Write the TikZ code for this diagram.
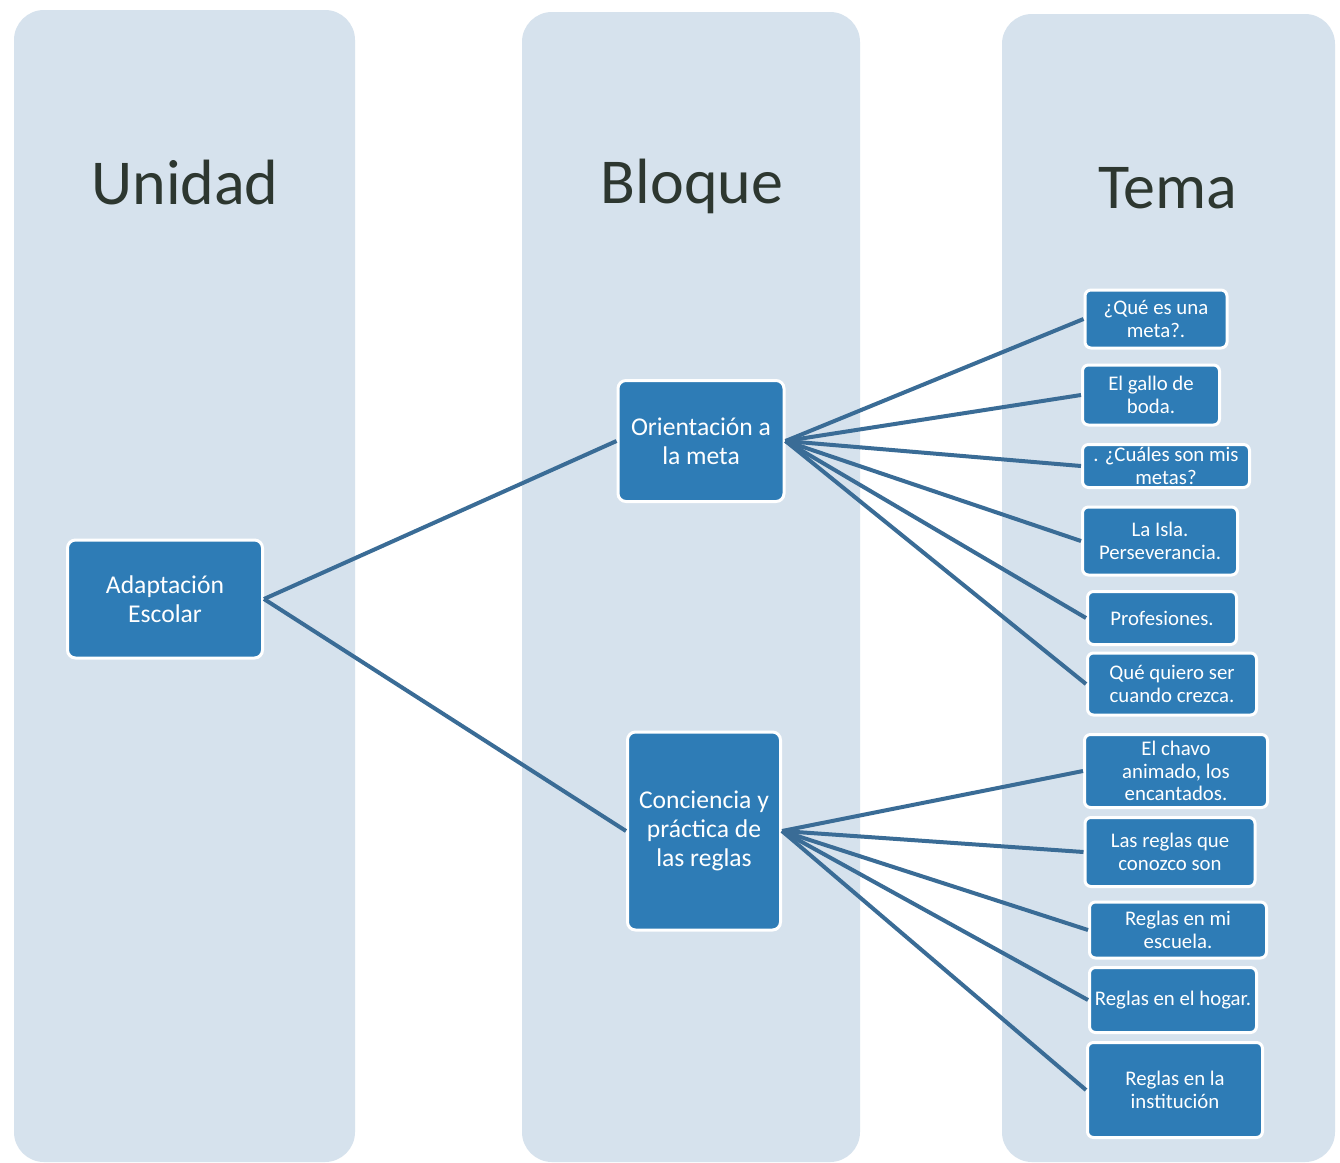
\documentclass[tikz,border=0pt]{standalone}
\usepackage{fontspec}
\setmainfont{Carlito}
\definecolor{colbg}{RGB}{214,226,237}
\definecolor{boxblue}{RGB}{46,124,182}
\definecolor{linecol}{RGB}{58,108,150}
\definecolor{titlecol}{RGB}{45,55,48}
\tikzset{
  column/.style={fill=colbg, draw=none, rounded corners=15pt},
  title/.style={text=titlecol, font=\fontsize{32}{38}\selectfont, inner sep=0pt},
  bigbox/.style={draw=white, line width=1.5pt, fill=boxblue, rounded corners=4pt, text=white, align=center, inner sep=0pt, font=\fontsize{12.8}{14.4}\selectfont},
  tbox/.style={draw=white, line width=1.5pt, fill=boxblue, rounded corners=3pt, text=white, align=center, inner sep=0pt, font=\fontsize{10.4}{11.3}\selectfont},
  conn/.style={draw=linecol, line width=2pt}
}
\begin{document}
\begin{tikzpicture}[x=0.5pt,y=-0.5pt]
\useasboundingbox[fill=white] (0,0) rectangle (1340,1163);
% columns
\fill[column] (14,10) rectangle (355,1162);
\fill[column] (522,12) rectangle (860,1162);
\fill[column] (1002,14) rectangle (1335,1162);
% titles
\node[title] (tu) at (185,183) {Unidad};
\node[title] (tb) at (692,186) {Bloque};
\node[title] (tt) at (1168,188) {Tema};
% main nodes
\node[bigbox, minimum width=97.5pt, minimum height=59pt] (a) at (165,599) {Adaptación\\Escolar};
\node[bigbox, minimum width=83pt, minimum height=60.5pt] (o) at (701,441) {Orientación a\\la meta};
\node[bigbox, minimum width=76.5pt, minimum height=99pt] (c) at (704,831) {Conciencia y\\práctica de\\las reglas};
% tema nodes
\node[tbox, minimum width=71pt, minimum height=29pt] (t1) at (1156,319) {¿Qué es una\\meta?.};
\node[tbox, minimum width=68.5pt, minimum height=30pt] (t2) at (1151,395) {El gallo de\\boda.};
\node[tbox, minimum width=83.5pt, minimum height=21.5pt] (t3) at (1166,466) {. ¿Cuáles son mis\\metas?};
\node[tbox, minimum width=77.5pt, minimum height=34pt] (t4) at (1160,541) {La Isla.\\Perseverancia.};
\node[tbox, minimum width=74.5pt, minimum height=26.5pt] (t5) at (1162,618) {Profesiones.};
\node[tbox, minimum width=84.5pt, minimum height=31pt] (t6) at (1172,684) {Qué quiero ser\\cuando crezca.};
\node[tbox, minimum width=91.5pt, minimum height=36.5pt] (t7) at (1176,771) {El chavo\\animado, los\\encantados.};
\node[tbox, minimum width=85pt, minimum height=34.5pt] (t8) at (1170,852) {Las reglas que\\conozco son};
\node[tbox, minimum width=88.5pt, minimum height=28pt] (t9) at (1178,930) {Reglas en mi\\escuela.};
\node[tbox, minimum width=83.5pt, minimum height=32.5pt] (t10) at (1173,1000) {Reglas en el hogar.};
\node[tbox, minimum width=87.5pt, minimum height=47.5pt] (t11) at (1175,1090) {Reglas en la\\institución};
% connectors
\draw[conn] (a.east) -- (o.west);
\draw[conn] (a.east) -- (c.west);
\foreach \t in {t1,t2,t3,t4,t5,t6}{\draw[conn] (o.east) -- (\t.west);}
\foreach \t in {t7,t8,t9,t10,t11}{\draw[conn] (c.east) -- (\t.west);}
\end{tikzpicture}
\end{document}
